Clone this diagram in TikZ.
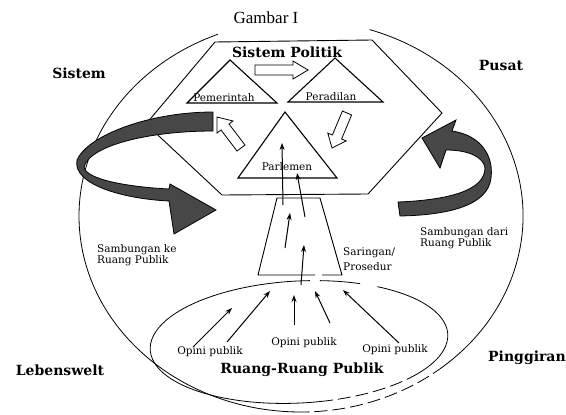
\documentclass[tikz,border=0pt]{standalone}
\usepackage{fontspec}
\setmainfont{DejaVu Serif}
\newfontfamily\capfont{Liberation Serif}
\usetikzlibrary{arrows.meta}
\begin{document}
\begin{tikzpicture}[x=1pt,y=-1pt,
  thin line/.style={line width=0.8pt},
  dash line/.style={line width=0.8pt, dash pattern=on 13pt off 5pt},
  hexline/.style={line width=0.9pt, line join=miter},
  tri/.style={draw, line width=1.1pt, line join=miter},
  bigarrow/.style={fill=black!72, draw=black, line width=0.8pt},
  whitearrow/.style={fill=white, draw=black, line width=0.8pt, line join=miter},
  thinarrow/.style={line width=1pt, -{Stealth[length=7pt,width=5pt]}},
  boldlabel/.style={font=\fontsize{14}{16}\selectfont\bfseries, inner sep=0pt},
  smalllabel/.style={font=\fontsize{10.5}{11}\selectfont, inner sep=0pt},
]
\useasboundingbox (0,0) rectangle (566,415);

% ---- outer circle (Lebenswelt) ----
\coordinate (C) at (301,216);
\draw[thin line] (C) ++(288:222 and 196) arc[start angle=288,end angle=410,x radius=222,y radius=196];
\draw[dash line] (C) ++(410:222 and 196) arc[start angle=410,end angle=448,x radius=222,y radius=196];
\draw[thin line] (C) ++(448:222 and 196) arc[start angle=448,end angle=608,x radius=222,y radius=196];

% ---- public sphere ellipse (slightly tilted) ----
\coordinate (E) at (299,342);
\begin{scope}[shift={(E)}, rotate=3]
\draw[thin line] (0,0) ++(81:149 and 61) arc[start angle=81,end angle=275.4,x radius=149,y radius=61];
\draw[thin line] (0,0) ++(279.3:149 and 61) arc[start angle=279.3,end angle=295.5,x radius=149,y radius=61];
\draw[thin line] (0,0) ++(303:149 and 61) arc[start angle=303,end angle=398,x radius=149,y radius=61];
\draw[dash line] (0,0) ++(398:149 and 61) arc[start angle=398,end angle=441,x radius=149,y radius=61];
\end{scope}

% ---- hexagon (Sistem Politik) ----
\coordinate (h1) at (215,42);
\coordinate (h2) at (372,40);
\coordinate (h3) at (442,113);
\coordinate (h4) at (368,194);
\coordinate (h5) at (222,195);
\coordinate (h6) at (146,124);
\draw[hexline] (h1) -- (h2) -- (h3) -- (h4) -- (h5) -- (h6) -- cycle;

% ---- triangles ----
\coordinate (pemA) at (230,60);  \coordinate (pemL) at (187,103); \coordinate (pemR) at (277,103);
\coordinate (perA) at (335,58);  \coordinate (perL) at (288,102); \coordinate (perR) at (383,102);
\coordinate (parA) at (285,112); \coordinate (parL) at (238,178); \coordinate (parR) at (337,178);
\draw[tri] (pemA) -- (pemL) -- (pemR) -- cycle;
\draw[tri] (perA) -- (perL) -- (perR) -- cycle;
\draw[tri] (parA) -- (parL) -- (parR) -- cycle;

% ---- white block arrows ----
\draw[whitearrow] (255,65) -- (293,65) -- (293,61) -- (308,70) -- (293,79) -- (293,75) -- (255,75) -- cycle;
\draw[whitearrow] (245,145) -- (229,124) -- (233,121) -- (217,117) -- (217,133) -- (221,130) -- (237,151) -- cycle;
\draw[whitearrow] (351.6,115) -- (341.6,139) -- (346.2,140.9) -- (332,148) -- (327.8,133.1) -- (332.4,135) -- (342.4,111) -- cycle;

% ---- trapezoid (Saringan/Prosedur) ----
\coordinate (tBL) at (258,275); \coordinate (tTL) at (277,198);
\coordinate (tTR) at (320,198); \coordinate (tBR) at (342,275);
\draw[hexline] (315,275) -- (tBL) -- (tTL) -- (tTR) -- (tBR) -- (322,275);

% ---- thin arrows ----
\coordinate (a1s) at (283,205); \coordinate (a1e) at (282,143);
\coordinate (a2s) at (305,217); \coordinate (a2e) at (297,173);
\coordinate (a3s) at (285,248); \coordinate (a3e) at (290,213);
\coordinate (a4s) at (301,285); \coordinate (a4e) at (304,245);
\coordinate (e1s) at (193,347); \coordinate (e1e) at (232,308);
\coordinate (e2s) at (227,342); \coordinate (e2e) at (270,291);
\coordinate (e3s) at (294,325); \coordinate (e3e) at (294,295);
\coordinate (e4s) at (330,323); \coordinate (e4e) at (315,291);
\coordinate (e5s) at (399,343); \coordinate (e5e) at (343,290);
\foreach \a in {a1,a2,a3,a4,e1,e2,e3,e4,e5}
  \draw[thinarrow] (\a s) -- (\a e);

% ---- big ribbon arrows ----
\draw[bigarrow] (213,112)
  .. controls (150,112) and (88,135) .. (77,160)
  .. controls (72,185) and (125,199) .. (169,201)
  -- (174,234) -- (216,210) -- (170,184) -- (169,189)
  .. controls (130,187) and (86,180) .. (84,167)
  .. controls (90,145) and (150,131) .. (213,131)
  -- cycle;
\draw[bigarrow] (398,202)
  .. controls (450,200) and (485,190) .. (485,168)
  .. controls (484,158) and (470,150) .. (446,150)
  -- (440,168) -- (422,138) -- (456,120) -- (452,131)
  .. controls (480,135) and (494,155) .. (491,178)
  .. controls (488,205) and (450,215) .. (400,216)
  -- cycle;

% ---- labels ----
\node[font=\capfont\fontsize{17}{19}\selectfont, inner sep=0pt] (gambar) at (266,18) {Gambar I};
\node[boldlabel] (sp) at (287,52) {Sistem Politik};
\node[smalllabel] (pem) at (224,98) {Pemerintah};
\node[smalllabel] (per) at (331,97) {Peradilan};
\node[smalllabel] (par) at (287,167) {Parlemen};
\node[boldlabel] (sis) at (79,73) {Sistem};
\node[boldlabel] (pus) at (501,65) {Pusat};
\node[boldlabel, anchor=west] (ping) at (488,358) {Pinggiran};
\node[boldlabel] (leb) at (60,370) {Lebenswelt};
\node[boldlabel] (rrp) at (302,370) {Ruang-Ruang Publik};
\node[smalllabel] (op1) at (210,352) {Opini publik};
\node[smalllabel] (op2) at (304,343) {Opini publik};
\node[smalllabel] (op3) at (395,350) {Opini publik};
\node[smalllabel, align=left, anchor=west] (sk) at (97,255) {Sambungan ke\\Ruang Publik};
\node[smalllabel, align=left, anchor=west, font=\fontsize{10.5}{10}\selectfont] (sd) at (420,238) {Sambungan dari\\Ruang Publik};
\node[smalllabel, align=left, anchor=west, font=\fontsize{10.5}{15}\selectfont] (sar) at (343,259) {Saringan/\\Prosedur};
\end{tikzpicture}
\end{document}
